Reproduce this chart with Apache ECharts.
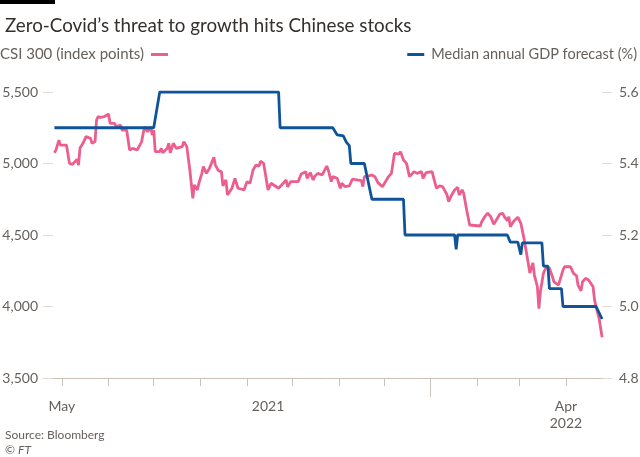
<!DOCTYPE html>
<html>
<head>
<meta charset="utf-8">
<script src="https://cdn.jsdelivr.net/npm/echarts@6/dist/echarts.min.js"></script>
<style>
html,body{margin:0;padding:0;background:#fff;}
#chart{width:640px;height:457px;}
</style>
</head>
<body>
<div id="chart"></div>
<script>
const csiDates = ['2021-04-26','2021-04-27','2021-04-29','2021-04-30','2021-05-04','2021-05-06','2021-05-08','2021-05-11','2021-05-12','2021-05-13','2021-05-15','2021-05-17','2021-05-20','2021-05-21','2021-05-23','2021-05-24','2021-05-25','2021-05-27','2021-05-29','2021-06-01','2021-06-02','2021-06-05','2021-06-06','2021-06-09','2021-06-10','2021-06-13','2021-06-15','2021-06-17','2021-06-20','2021-06-23','2021-06-24','2021-06-25','2021-06-27','2021-06-29','2021-06-30','2021-07-01','2021-07-02','2021-07-05','2021-07-06','2021-07-07','2021-07-10','2021-07-11','2021-07-12','2021-07-14','2021-07-16','2021-07-20','2021-07-21','2021-07-23','2021-07-25','2021-07-27','2021-07-28','2021-07-30','2021-07-31','2021-08-02','2021-08-03','2021-08-05','2021-08-07','2021-08-10','2021-08-11','2021-08-13','2021-08-15','2021-08-16','2021-08-18','2021-08-19','2021-08-22','2021-08-24','2021-08-26','2021-08-27','2021-08-30','2021-09-01','2021-09-03','2021-09-05','2021-09-07','2021-09-09','2021-09-10','2021-09-12','2021-09-13','2021-09-15','2021-09-17','2021-09-22','2021-09-24','2021-09-27','2021-09-28','2021-09-30','2021-10-05','2021-10-07','2021-10-10','2021-10-11','2021-10-13','2021-10-15','2021-10-16','2021-10-18','2021-10-21','2021-10-24','2021-10-25','2021-10-27','2021-10-28','2021-10-31','2021-11-02','2021-11-03','2021-11-05','2021-11-08','2021-11-10','2021-11-13','2021-11-16','2021-11-17','2021-11-18','2021-11-21','2021-11-23','2021-11-25','2021-11-27','2021-11-30','2021-12-02','2021-12-04','2021-12-06','2021-12-08','2021-12-11','2021-12-12','2021-12-14','2021-12-16','2021-12-18','2021-12-21','2021-12-23','2021-12-26','2021-12-27','2021-12-29','2022-01-02','2022-01-04','2022-01-05','2022-01-07','2022-01-09','2022-01-12','2022-01-13','2022-01-15','2022-01-17','2022-01-19','2022-01-20','2022-01-22','2022-01-23','2022-01-25','2022-01-26','2022-01-27','2022-02-03','2022-02-04','2022-02-06','2022-02-08','2022-02-10','2022-02-12','2022-02-14','2022-02-16','2022-02-18','2022-02-19','2022-02-21','2022-02-22','2022-02-23','2022-02-25','2022-02-28','2022-03-02','2022-03-04','2022-03-06','2022-03-08','2022-03-10','2022-03-11','2022-03-13','2022-03-14','2022-03-15','2022-03-17','2022-03-18','2022-03-19','2022-03-21','2022-03-23','2022-03-24','2022-03-25','2022-03-27','2022-03-30','2022-03-31','2022-04-04','2022-04-05','2022-04-06','2022-04-08','2022-04-09','2022-04-11','2022-04-12','2022-04-14','2022-04-16','2022-04-17','2022-04-19','2022-04-20','2022-04-21','2022-04-23','2022-04-25'];
const csiValues = [5075,5094,5164,5129,5129,5001,4994,5029,4989,5108,5141,5188,5176,5141,5153,5304,5327,5323,5327,5346,5281,5281,5257,5269,5234,5234,5094,5106,5094,5153,5211,5257,5222,5257,5199,5234,5083,5083,5106,5075,5106,5141,5075,5141,5106,5118,5153,5118,4955,4757,4850,4815,4862,4931,4978,4931,4966,5043,4989,4950,4943,4843,4885,4780,4827,4896,4827,4827,4815,4873,4862,4955,4989,4982,5017,5001,4943,4815,4862,4827,4850,4885,4838,4873,4873,4927,4943,4896,4936,4885,4910,4931,4920,4982,4955,4873,4908,4896,4827,4862,4838,4843,4890,4885,4880,4838,4908,4913,4920,4908,4866,4838,4873,4908,4931,5071,5066,5083,5024,5001,4908,4943,4931,4943,4896,4936,4943,4862,4827,4843,4838,4780,4733,4780,4815,4834,4780,4815,4792,4675,4687,4570,4563,4593,4628,4652,4628,4575,4610,4646,4652,4628,4600,4628,4558,4593,4625,4582,4480,4360,4235,4305,4220,4138,3985,4104,4232,4255,4278,4267,4208,4173,4162,4150,4255,4278,4278,4278,4232,4215,4150,4110,4173,4197,4185,4173,4138,4045,3999,3917,3785];

const gdpDates = ['2021-04-26','2021-07-01','2021-07-03','2021-07-05','2021-09-22','2021-09-23','2021-10-28','2021-10-31','2021-11-04','2021-11-06','2021-11-08','2021-11-09','2021-11-18','2021-11-23','2021-12-14','2021-12-15','2022-01-17','2022-01-18','2022-01-19','2022-02-21','2022-02-23','2022-02-28','2022-03-02','2022-03-03','2022-03-16','2022-03-17','2022-03-20','2022-03-21','2022-03-29','2022-03-30','2022-04-21','2022-04-25'];
const gdpValues = [5.5,5.5,5.55,5.6,5.6,5.5,5.5,5.48,5.477,5.46,5.45,5.4,5.4,5.3,5.3,5.2,5.2,5.16,5.2,5.2,5.18,5.18,5.145,5.178,5.178,5.113,5.113,5.05,5.05,5.0,5.0,4.965];

const monthTicks = ['2021-05-01','2021-06-01','2021-07-01','2021-08-01','2021-09-01','2021-10-01','2021-11-01','2021-12-01','2022-01-01','2022-02-01','2022-03-01','2022-04-01'];
const yearTick = ['2022-01-01'];
const xLabelDates = ['2021-05-01','2021-09-15','2022-04-01'];
const xLabelTexts = ['May','2021','Apr\n2022'];

const ts = s => { const p = s.split('-').map(Number); return new Date(p[0], p[1]-1, p[2]).getTime(); };
const FONT = 'Lato';
const GREY = '#66605c';

const chart = echarts.init(document.getElementById('chart'), null, {renderer:'canvas'});
const axisMin = new Date(2021,3,18,10).getTime();
const axisMax = new Date(2022,4,1,14).getTime();
const labelTs = xLabelDates.map(ts);

chart.setOption({
  animation:false,
  backgroundColor:'#fff',
  textStyle:{fontFamily:FONT},
  graphic:[{type:'rect', shape:{x:0,y:0,width:55,height:4}, style:{fill:'#000'}}],
  title:[
    {text:'Zero-Covid\u2019s threat to growth hits Chinese stocks', left:0, top:11,
     textStyle:{fontFamily:FONT, fontSize:18.8, fontWeight:'normal', color:'#33302e'}},
    {text:'Source: Bloomberg\n\u00a9 {i|FT}', left:0, top:423,
     textStyle:{fontFamily:FONT, fontSize:12, fontWeight:'normal', color:GREY, lineHeight:15,
       rich:{i:{fontStyle:'italic', fontSize:12, color:GREY, fontFamily:FONT, lineHeight:15}}}}
  ],
  legend:[
    {data:['CSI 300 (index points)'], left:0, top:47, align:'right', itemWidth:17, itemHeight:3, icon:'rect', itemGap:0,
     textStyle:{fontFamily:FONT, fontSize:15, color:GREY, padding:[0,2,0,0]}, padding:0},
    {data:['Median annual GDP forecast (%)'], right:3, top:47, align:'left', itemWidth:17, itemHeight:3, icon:'rect',
     textStyle:{fontFamily:FONT, fontSize:14.5, color:GREY, padding:[0,0,0,2]}, padding:0}
  ],
  grid:{left:43, right:28, top:92, bottom:79, containLabel:false, outerBoundsMode:'none'},
  xAxis:[
    {type:'value', min:axisMin, max:axisMax, position:'bottom',
     axisLine:{show:true, lineStyle:{color:'#ccc1b7', width:1}},
     axisTick:{show:true, length:8, lineStyle:{color:'#ccc1b7'}, customValues:monthTicks.map(ts)},
     axisLabel:{show:true, customValues:labelTs, margin:20, color:GREY, fontFamily:FONT, fontSize:14, lineHeight:17,
       formatter:function(v){ const i = labelTs.indexOf(v); return i>=0 ? xLabelTexts[i] : ''; }},
     splitLine:{show:false}},
    {type:'value', min:axisMin, max:axisMax, position:'bottom', gridIndex:0,
     axisLine:{show:false},
     axisTick:{show:true, length:19, lineStyle:{color:'#ccc1b7'}, customValues:yearTick.map(ts)},
     axisLabel:{show:false}, splitLine:{show:false}}
  ],
  yAxis:[
    {type:'value', min:3500, max:5500, interval:500, position:'left',
     axisLine:{show:false},
     axisTick:{show:true, inside:true, length:10, lineStyle:{color:'#e2dbd3'}},
     axisLabel:{margin:5, color:GREY, fontFamily:FONT, fontSize:14,
       formatter:function(v){ return v.toLocaleString('en-US'); }},
     splitLine:{show:false}},
    {type:'value', min:4.8, max:5.6, interval:0.2, position:'right',
     axisLine:{show:false},
     axisTick:{show:true, inside:true, length:10, lineStyle:{color:'#e2dbd3'}},
     axisLabel:{margin:7, color:GREY, fontFamily:FONT, fontSize:14,
       formatter:function(v){ return v.toFixed(1); }},
     splitLine:{show:false}}
  ],
  series:[
    {name:'CSI 300 (index points)', type:'line', xAxisIndex:0, yAxisIndex:0, showSymbol:false,
     color:'#eb5e8d', lineStyle:{width:2.8, color:'#eb5e8d'},
     data:csiDates.map((d,i)=>[ts(d), csiValues[i]])},
    {name:'Median annual GDP forecast (%)', type:'line', xAxisIndex:0, yAxisIndex:1, showSymbol:false,
     color:'#0f5499', lineStyle:{width:2.8, color:'#0f5499'},
     data:gdpDates.map((d,i)=>[ts(d), gdpValues[i]])}
  ]
});
</script>
</body>
</html>
